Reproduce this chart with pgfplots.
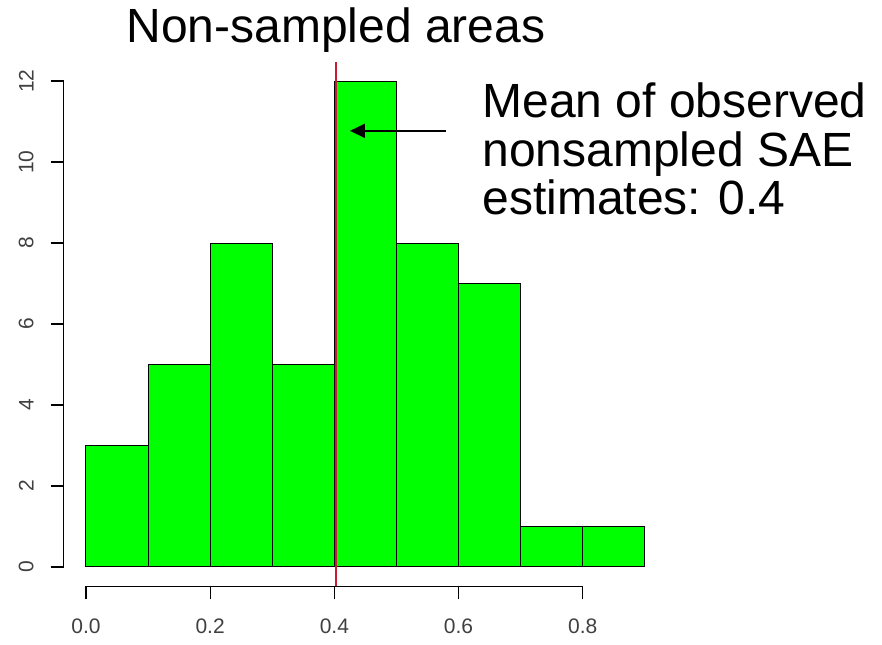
\documentclass[border=0pt]{standalone}
\usepackage{fontspec}
\setmainfont{Liberation Sans}
\usepackage{pgfplots}
\pgfplotsset{compat=1.18}
\usetikzlibrary{arrows.meta}
\definecolor{histgreen}{RGB}{0,255,0}
\definecolor{meanred}{RGB}{200,28,50}
\begin{document}
\begin{tikzpicture}
\begin{axis}[
  at={(31.8pt,28.8pt)}, anchor=south west,
  scale only axis, width=301.8pt, height=262.4pt,
  xmin=-0.036, xmax=0.936, ymin=-0.48, ymax=12.48,
  axis line style={draw=none},
  clip=false,
  xtick={0,0.2,0.4,0.6,0.8},
  xticklabels={0.0,0.2,0.4,0.6,0.8},
  ytick={0,2,4,6,8,10,12},
  yticklabels={0,2,4,6,8,10,12},
  tick pos=left,
  tick align=outside, major tick length=6.5pt,
  tick style={black, line width=0.6pt},
  xticklabel style={font=\fontsize{10.5}{12}\selectfont, text=black!75, yshift=-6pt},
  yticklabel style={font=\fontsize{10.5}{12}\selectfont, text=black!75, rotate=90, anchor=south, yshift=5pt},
]
\addplot[ybar interval, fill=histgreen, draw=black, line width=0.5pt] coordinates {(0,3)(0.1,5)(0.2,8)(0.3,5)(0.4,12)(0.5,8)(0.6,7)(0.7,1)(0.8,1)(0.9,1)};
\addplot[meanred, line width=1pt] coordinates {(0.403,-0.48)(0.403,12.48)};
\draw[line width=0.6pt] (axis cs:0,-0.48) -- (axis cs:0.8,-0.48);
\draw[line width=0.6pt] (axis cs:-0.036,0) -- (axis cs:-0.036,12);
\draw[-{Stealth[length=7.5pt,width=7pt,inset=0pt]}, line width=0.7pt] (axis cs:0.58,10.77) -- (axis cs:0.425,10.77);
\end{axis}
\node[anchor=base, font=\fontsize{24}{24}\selectfont, inner sep=0pt] at (168pt,300.5pt) {Non-sampled areas};
\node[anchor=base west, font=\fontsize{24}{24}\selectfont, inner sep=0pt] at (241pt,263pt) {Mean of observed};
\node[anchor=base west, font=\fontsize{24}{24}\selectfont, inner sep=0pt] at (241pt,239pt) {nonsampled SAE};
\node[anchor=base west, font=\fontsize{24}{24}\selectfont, inner sep=0pt] at (241pt,215pt) {estimates: 0.4};
\pgfresetboundingbox
\useasboundingbox (0,0) rectangle (441pt,322pt);
\end{tikzpicture}
\end{document}
